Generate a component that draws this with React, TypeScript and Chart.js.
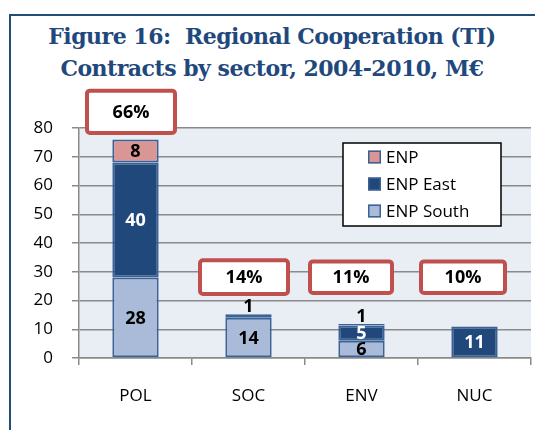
import React, { useEffect, useRef } from "react";
import { Chart, registerables } from "chart.js";

Chart.register(...registerables);

const categories = ["POL", "SOC", "ENV", "NUC"];
const enpSouth: (number | null)[] = [28, 14, 6, null];
const enpEast: (number | null)[] = [40, 1.2, 5.3, 11];
const enp: (number | null)[] = [8, null, 0.5, null];
const shares = ["66%", "14%", "11%", "10%"];
const yMin = 0;
const yMax = 80;
const yStep = 10;

const FONT = "'Open Sans', 'DejaVu Sans', sans-serif";

const bgPlugin = {
  id: "plotBg",
  beforeDraw(chart: any) {
    const { ctx, chartArea: a } = chart;
    ctx.save();
    ctx.fillStyle = "#E9EDF4";
    ctx.fillRect(a.left, a.top, a.right - a.left, a.bottom - a.top);
    ctx.restore();
  },
};

const valueLabelPlugin = {
  id: "valueLabels",
  afterDatasetsDraw(chart: any) {
    const { ctx } = chart;
    ctx.save();
    ctx.font = `bold 18px ${FONT}`;
    ctx.textAlign = "center";
    ctx.textBaseline = "middle";
    chart.data.datasets.forEach((ds: any, di: number) => {
      const meta = chart.getDatasetMeta(di);
      meta.data.forEach((el: any, i: number) => {
        const v = ds.data[i];
        if (v == null) return;
        const txt = String(Math.round(v));
        const h = Math.abs(el.base - el.y);
        if (h < 12) {
          ctx.fillStyle = "#000";
          ctx.fillText(txt, el.x, el.y - 7);
        } else {
          ctx.fillStyle = ds.labelColor;
          ctx.fillText(txt, el.x, (el.y + el.base) / 2 + 1);
        }
      });
    });
    ctx.restore();
  },
};

const shareBoxPlugin = {
  id: "shareBoxes",
  afterDraw(chart: any, _args: any, opts: any) {
    const { ctx } = chart;
    const xs = chart.scales.x;
    const ys = chart.scales.y;
    const cw = xs.getPixelForValue(1) - xs.getPixelForValue(0);
    ctx.save();
    shares.forEach((s, i) => {
      const left = xs.getPixelForValue(i) - cw / 2 + opts.leftOffset[i];
      const w = opts.width[i];
      const top = ys.getPixelForValue(opts.top[i]);
      const bottom = ys.getPixelForValue(opts.bottom[i]);
      ctx.beginPath();
      ctx.roundRect(left, top, w, bottom - top, 3);
      ctx.fillStyle = "#FFFFFF";
      ctx.fill();
      ctx.lineWidth = 4;
      ctx.strokeStyle = "#C0504D";
      ctx.stroke();
      ctx.fillStyle = "#000";
      ctx.font = `bold 18px ${FONT}`;
      ctx.textAlign = "center";
      ctx.textBaseline = "middle";
      ctx.fillText(s, left + w / 2, (top + bottom) / 2 + 1);
    });
    ctx.restore();
  },
};

const legendPlugin = {
  id: "boxLegend",
  afterDraw(chart: any) {
    const { ctx, chartArea: a } = chart;
    const left = a.left + 264;
    const top = a.top + 15;
    const w = 158;
    const h = 83;
    ctx.save();
    ctx.fillStyle = "#FFFFFF";
    ctx.fillRect(left, top, w, h);
    ctx.lineWidth = 1.5;
    ctx.strokeStyle = "#000";
    ctx.strokeRect(left, top, w, h);
    const items = [...chart.data.datasets].reverse();
    ctx.font = `17px ${FONT}`;
    ctx.textBaseline = "middle";
    ctx.textAlign = "left";
    items.forEach((ds: any, k: number) => {
      const cy = top + 14 + k * 27;
      ctx.fillStyle = ds.backgroundColor;
      ctx.fillRect(left + 25, cy - 6.5, 13, 13);
      ctx.lineWidth = 1.5;
      ctx.strokeStyle = ds.borderColor;
      ctx.strokeRect(left + 25.75, cy - 5.75, 11.5, 11.5);
      ctx.fillStyle = "#000";
      ctx.fillText(ds.label, left + 43, cy + 1);
    });
    ctx.restore();
  },
};

export default function App() {
  const ref = useRef<HTMLCanvasElement | null>(null);

  useEffect(() => {
    if (!ref.current) return;
    const border = "#3A6296";
    const chart = new Chart(ref.current, {
      type: "bar",
      data: {
        labels: categories,
        datasets: [
          {
            label: "ENP South",
            data: enpSouth,
            backgroundColor: "#AABAD9",
            borderColor: border,
            borderWidth: 2,
            borderSkipped: false,
            labelColor: "#000",
          } as any,
          {
            label: "ENP East",
            data: enpEast,
            backgroundColor: "#20487B",
            borderColor: border,
            borderWidth: 2,
            borderSkipped: false,
            labelColor: "#FFFFFF",
          } as any,
          {
            label: "ENP",
            data: enp,
            backgroundColor: "#D99694",
            borderColor: border,
            borderWidth: 2,
            borderSkipped: false,
            labelColor: "#000",
          } as any,
        ],
      },
      options: {
        responsive: false,
        animation: false,
        devicePixelRatio: 1,
        layout: { padding: { top: 128, left: 0, right: 4, bottom: 0 } },
        datasets: { bar: { categoryPercentage: 1, barPercentage: 0.41 } },
        plugins: {
          legend: { display: false },
          tooltip: { enabled: false },
          title: { display: false },
          shareBoxes: {
            leftOffset: [8, 8, 5, 3],
            width: [88, 88, 82, 84],
            top: [93, 34, 33.6, 33.6],
            bottom: [78.3, 22.3, 22.6, 22.6],
          },
        } as any,
        scales: {
          x: {
            stacked: true,
            afterFit: (s: any) => {
              s.height = 72;
            },
            grid: {
              drawOnChartArea: false,
              drawTicks: true,
              tickLength: 7,
              color: "#8A8A8A",
              lineWidth: 1.5,
              offset: true,
            },
            border: { color: "#8A8A8A", width: 1.5 },
            ticks: {
              color: "#000",
              font: { family: FONT, size: 17 },
              padding: 21,
            },
          },
          y: {
            stacked: true,
            min: yMin,
            max: yMax,
            afterFit: (s: any) => {
              s.width = 79;
            },
            grid: {
              color: "#8A8A8A",
              lineWidth: 1.5,
              tickLength: 7,
              drawTicks: true,
            },
            border: { color: "#8A8A8A", width: 1.5 },
            ticks: {
              stepSize: yStep,
              color: "#000",
              font: { family: FONT, size: 17 },
              padding: 19,
            },
          },
        },
      },
      plugins: [bgPlugin, valueLabelPlugin, shareBoxPlugin, legendPlugin],
    });
    return () => chart.destroy();
  }, []);

  return (
    <div
      style={{
        position: "fixed",
        left: 0,
        top: 0,
        width: 535,
        height: 430,
        overflow: "hidden",
        background: "#FFFFFF",
      }}
    >
      <div
        style={{
          position: "absolute",
          left: 9,
          top: 14,
          width: 600,
          height: 500,
          borderLeft: "2px solid #1F4E79",
          borderTop: "2px solid #1F4E79",
        }}
      />
      <div
        style={{
          position: "absolute",
          left: 9,
          top: 20,
          width: 526,
          textAlign: "center",
          fontFamily: "'DejaVu Serif', 'Liberation Serif', serif",
          fontWeight: "bold",
          fontSize: 22,
          letterSpacing: "-0.5px",
          lineHeight: "32px",
          color: "#1F497D",
          whiteSpace: "pre",
        }}
      >
        {"Figure 16:  Regional Cooperation (TI)\nContracts by sector, 2004-2010, M€"}
      </div>
      <canvas
        ref={ref}
        width={535}
        height={430}
        style={{ position: "absolute", left: 0, top: 0, width: 535, height: 430 }}
      />
    </div>
  );
}
